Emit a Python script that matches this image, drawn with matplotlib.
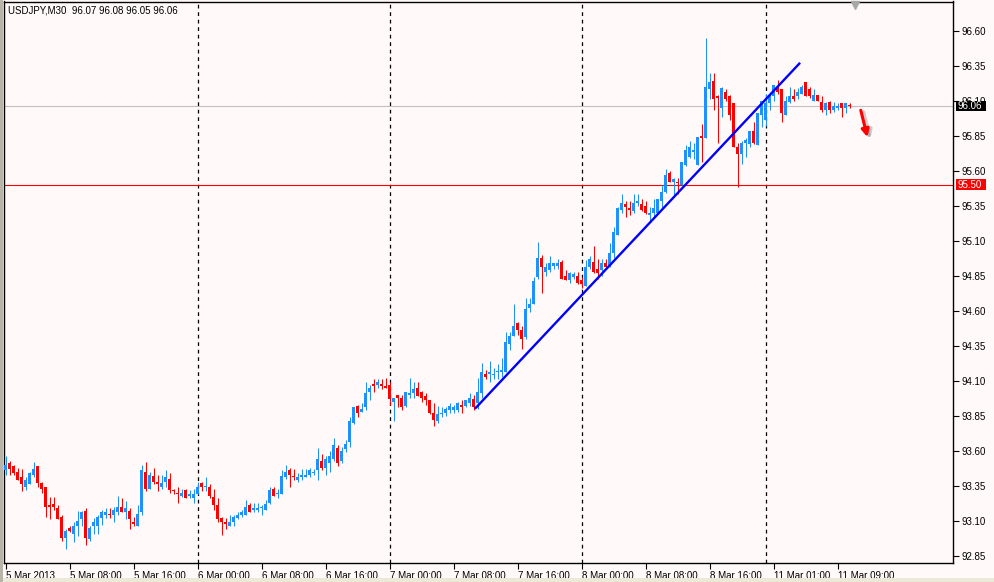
import numpy as np
import matplotlib
matplotlib.use("Agg")
import matplotlib.pyplot as plt
from matplotlib.patches import Rectangle

plt.rcParams["font.family"] = ["Liberation Sans", "DejaVu Sans"]

# ---------------- data (USDJPY, M30) ----------------
opens = [93.46,93.51,93.49,93.45,93.41,93.34,93.36,93.43,93.49,93.37,
         93.34,93.21,93.22,93.19,93.13,92.98,93.05,93.01,93.06,93.11,
         93.17,92.97,93.06,93.06,93.12,93.14,93.15,93.14,93.16,93.20,
         93.16,93.17,93.09,93.06,93.16,93.45,93.33,93.42,93.38,93.34,
         93.38,93.40,93.32,93.30,93.28,93.32,93.28,93.26,93.29,93.37,
         93.34,93.34,93.27,93.21,93.12,93.09,93.06,93.09,93.12,93.14,
         93.14,93.21,93.18,93.18,93.19,93.18,93.23,93.33,93.29,93.29,
         93.41,93.46,93.42,93.39,93.41,93.41,93.43,93.44,93.46,93.53,
         93.48,93.51,93.54,93.62,93.53,93.61,93.66,93.80,93.92,93.88,
         93.91,94.02,94.08,94.07,94.08,94.06,94.07,93.95,94.00,93.98,
         93.92,94.00,94.01,94.05,94.02,93.99,93.96,93.87,93.81,93.86,
         93.87,93.89,93.89,93.89,93.93,93.92,93.94,93.97,93.94,94.01,
         94.15,94.15,94.14,94.16,94.16,94.16,94.36,94.42,94.51,94.46,
         94.41,94.62,94.65,94.84,94.98,94.88,94.89,94.92,94.92,94.95,
         94.85,94.82,94.84,94.85,94.82,94.78,94.91,94.95,94.90,94.89,
         94.94,94.92,95.01,95.14,95.32,95.36,95.33,95.31,95.37,95.36,
         95.35,95.28,95.30,95.30,95.38,95.45,95.58,95.52,95.52,95.50,
         95.64,95.70,95.73,95.64,95.85,95.83,96.18,96.24,96.13,96.05,
         96.16,96.13,96.08,95.77,95.72,95.80,95.79,95.88,95.78,96.00,
         95.96,96.08,96.13,96.20,96.18,96.00,96.09,96.13,96.13,96.15,
         96.23,96.18,96.10,96.14,96.09,96.03,96.09,96.03,96.05,96.08,
         96.05,96.07]
highs = [93.56,93.53,93.50,93.48,93.47,93.41,93.45,93.52,93.49,93.38,
         93.34,93.27,93.27,93.21,93.14,93.04,93.06,93.09,93.17,93.17,
         93.19,93.06,93.12,93.14,93.18,93.19,93.19,93.20,93.28,93.26,
         93.24,93.19,93.13,93.21,93.50,93.52,93.45,93.48,93.43,93.43,
         93.46,93.44,93.33,93.34,93.33,93.33,93.32,93.33,93.38,93.38,
         93.41,93.36,93.33,93.26,93.13,93.12,93.14,93.14,93.16,93.18,
         93.25,93.23,93.23,93.23,93.21,93.25,93.34,93.34,93.33,93.46,
         93.50,93.48,93.47,93.44,93.47,93.47,93.48,93.47,93.62,93.58,
         93.56,93.60,93.69,93.64,93.63,93.68,93.84,93.91,93.93,93.94,
         94.09,94.07,94.11,94.11,94.11,94.12,94.09,93.98,94.00,94.00,
         94.02,94.12,94.09,94.09,94.03,94.01,93.96,93.94,93.92,93.91,
         93.91,93.94,93.93,93.95,93.96,93.96,94.01,94.00,94.12,94.23,
         94.18,94.24,94.19,94.22,94.26,94.45,94.45,94.65,94.52,94.49,
         94.69,94.69,94.84,95.09,95.00,94.94,94.99,94.94,94.97,94.96,
         94.89,94.88,94.88,94.88,94.84,94.96,94.99,95.06,94.97,94.97,
         94.97,95.08,95.20,95.34,95.43,95.38,95.38,95.43,95.43,95.40,
         95.38,95.34,95.40,95.40,95.50,95.61,95.60,95.55,95.55,95.66,
         95.78,95.81,95.80,95.84,95.93,96.55,96.30,96.30,96.14,96.20,
         96.18,96.14,96.08,95.80,95.81,95.83,95.88,95.95,96.01,96.10,
         96.15,96.16,96.21,96.25,96.18,96.13,96.20,96.18,96.19,96.21,
         96.23,96.20,96.18,96.14,96.13,96.09,96.10,96.09,96.08,96.08,
         96.08,96.08]
lows = [93.43,93.43,93.43,93.39,93.31,93.32,93.36,93.41,93.34,93.30,
        93.13,93.11,93.18,93.11,92.96,92.90,93.02,92.95,92.99,93.06,
        92.93,92.96,93.01,93.01,93.07,93.12,93.12,93.09,93.14,93.16,
        93.11,93.04,93.06,93.06,93.14,93.31,93.33,93.36,93.31,93.33,
        93.34,93.30,93.29,93.23,93.27,93.26,93.26,93.23,93.29,93.31,
        93.31,93.26,93.18,93.09,93.00,93.04,93.06,93.06,93.11,93.13,
        93.14,93.16,93.16,93.16,93.14,93.18,93.22,93.28,93.26,93.29,
        93.40,93.34,93.39,93.38,93.39,93.41,93.41,93.43,93.39,93.46,
        93.43,93.45,93.53,93.49,93.51,93.59,93.63,93.79,93.84,93.88,
        93.89,93.96,94.02,94.05,94.04,94.05,93.93,93.81,93.91,93.89,
        93.91,93.98,93.98,93.99,93.95,93.93,93.86,93.78,93.80,93.84,
        93.85,93.87,93.87,93.88,93.87,93.91,93.92,93.89,93.90,93.98,
        94.11,94.09,94.11,94.11,94.13,94.16,94.32,94.42,94.43,94.33,
        94.40,94.59,94.65,94.83,94.73,94.85,94.88,94.90,94.90,94.83,
        94.82,94.80,94.83,94.79,94.76,94.78,94.90,94.87,94.83,94.85,
        94.90,94.91,94.98,95.14,95.30,95.27,95.28,95.30,95.35,95.31,
        95.29,95.23,95.26,95.29,95.33,95.44,95.52,95.42,95.43,95.50,
        95.63,95.69,95.68,95.64,95.66,95.83,96.11,96.03,95.80,95.98,
        96.10,95.96,95.77,95.48,95.65,95.70,95.77,95.79,95.78,95.91,
        95.92,96.03,96.10,96.15,95.95,96.00,96.08,96.10,96.11,96.15,
        96.13,96.12,96.10,96.10,96.02,96.00,96.01,96.02,96.03,95.98,
        96.01,96.05]
closes = [93.50,93.47,93.44,93.39,93.36,93.39,93.44,93.47,93.37,93.33,
          93.20,93.20,93.20,93.11,92.98,93.03,93.03,93.06,93.10,93.16,
          92.98,93.05,93.09,93.13,93.16,93.16,93.14,93.18,93.20,93.16,
          93.19,93.11,93.08,93.15,93.46,93.33,93.43,93.38,93.36,93.37,
          93.41,93.32,93.31,93.29,93.30,93.26,93.29,93.29,93.34,93.34,
          93.35,93.28,93.21,93.11,93.09,93.08,93.09,93.13,93.14,93.16,
          93.20,93.16,93.19,93.19,93.20,93.22,93.32,93.28,93.30,93.42,
          93.45,93.43,93.41,93.41,93.43,93.43,93.46,93.45,93.54,93.48,
          93.54,93.56,93.64,93.51,93.60,93.65,93.81,93.91,93.87,93.90,
          94.01,94.05,94.06,94.09,94.06,94.05,93.97,93.98,93.98,93.91,
          94.02,94.01,94.04,93.99,93.98,93.96,93.87,93.82,93.86,93.87,
          93.90,93.92,93.91,93.94,93.91,93.96,93.98,93.91,94.02,94.16,
          94.13,94.16,94.15,94.17,94.18,94.38,94.42,94.49,94.46,94.40,
          94.61,94.65,94.81,94.98,94.91,94.91,94.94,94.94,94.94,94.83,
          94.82,94.87,94.86,94.80,94.79,94.91,94.97,94.88,94.87,94.94,
          94.91,95.01,95.16,95.33,95.37,95.34,95.32,95.37,95.38,95.32,
          95.30,95.30,95.33,95.40,95.45,95.57,95.52,95.54,95.51,95.66,
          95.75,95.77,95.75,95.84,95.83,96.20,96.23,96.11,96.12,96.19,
          96.11,96.00,95.77,95.72,95.80,95.82,95.88,95.80,96.01,96.10,
          96.08,96.14,96.21,96.16,96.01,96.10,96.13,96.11,96.16,96.20,
          96.13,96.13,96.14,96.10,96.03,96.08,96.03,96.06,96.06,96.05,
          96.08,96.06]

x_tick_bars = [0, 16, 32, 48, 64, 80, 96, 112, 128, 144, 160, 176, 192, 208]
x_tick_labels = ["5 Mar 2013", "5 Mar 08:00", "5 Mar 16:00", "6 Mar 00:00",
                 "6 Mar 08:00", "6 Mar 16:00", "7 Mar 00:00", "7 Mar 08:00",
                 "7 Mar 16:00", "8 Mar 00:00", "8 Mar 08:00", "8 Mar 16:00",
                 "11 Mar 01:00", "11 Mar 09:00"]
separator_bars = [48, 96, 144, 190]
y_ticks = [92.85, 93.10, 93.35, 93.60, 93.85, 94.10, 94.35, 94.60,
           94.85, 95.10, 95.35, 95.60, 95.85, 96.10, 96.35, 96.60]
trend_bars = [117.3, 198.6]
trend_prices = [93.90, 96.37]
bid_price = 96.06
level_price = 95.50
arrow_bars = [213.6, 215.6]
arrow_prices = [96.05, 95.82]
symbol = "USDJPY,M30"

# ---------------- drawing ----------------
BG = "#FFFAF9"
BULL = "#1E90FF"
BEAR = "#FF0000"

fig = plt.figure(figsize=(9.95, 5.82), dpi=100, facecolor=BG)
W, H = 995.0, 582.0
ax_l, ax_r, ax_t, ax_b = 4.5, 953.0, 1.5, 563.0
ax = fig.add_axes([ax_l / W, 1 - ax_b / H, (ax_r - ax_l) / W, (ax_b - ax_t) / H])
ax.set_facecolor(BG)

o = np.array(opens); h = np.array(highs); l = np.array(lows); c = np.array(closes)
x = np.arange(len(o))
cols = np.where(c >= o, BULL, BEAR)

ax.vlines(x, l, h, colors=cols, linewidth=0.75, zorder=3)
body_bot = np.minimum(o, c)
body_h = np.maximum(np.abs(c - o), 0.007)
ax.bar(x, body_h, bottom=body_bot, width=0.75, color=cols, linewidth=0, zorder=4)

# period separators
for sb in separator_bars:
    ax.axvline(sb, color="black", linewidth=0.9, linestyle=(0, (3, 3)), zorder=2)

# horizontal lines
ax.axhline(bid_price, color="#C0C0C0", linewidth=0.8, zorder=1)
ax.axhline(level_price, color="#FF0000", linewidth=0.8, zorder=2)

# trend line
ax.plot(trend_bars, trend_prices, color="#0000FF", linewidth=1.7, zorder=5,
        solid_capstyle="butt")

# red arrow with shadow
ax.annotate("", xy=(arrow_bars[1] + 0.7, arrow_prices[1] - 0.014),
            xytext=(arrow_bars[0] + 0.7, arrow_prices[0] - 0.014),
            arrowprops=dict(arrowstyle="-|>", color="#A0A0A0", lw=2.6,
                            mutation_scale=12, alpha=0.5), zorder=5)
ax.annotate("", xy=(arrow_bars[1], arrow_prices[1]),
            xytext=(arrow_bars[0], arrow_prices[0]),
            arrowprops=dict(arrowstyle="-|>", color="#FF0000", lw=2.2,
                            mutation_scale=11), zorder=6)

# shift marker
ax.plot([0.897], [0.993], marker="v", color="#A8A8A8", markersize=6,
        transform=ax.transAxes, clip_on=False, zorder=6)

ax.set_xlim((ax_l - 5.7) / 4.0, (ax_r - 5.7) / 4.0)
px_per_unit = 140.1
top_price = 96.818 - ax_t / px_per_unit
bot_price = 96.818 - ax_b / px_per_unit
ax.set_ylim(bot_price, top_price)

# axes ticks
ax.yaxis.tick_right()
ax.set_yticks(y_ticks)
ax.set_yticklabels([f"{v:.2f}" for v in y_ticks])
ax.set_xticks(x_tick_bars)
ax.set_xticklabels(x_tick_labels)
for lab in ax.get_xticklabels():
    lab.set_horizontalalignment("left")
ax.tick_params(axis="y", direction="out", length=4, width=0.8, labelsize=7,
               pad=2, colors="black")
ax.tick_params(axis="x", direction="out", length=4, width=0.8, labelsize=7,
               pad=1.5, colors="black")
for sp in ax.spines.values():
    sp.set_color("black")
    sp.set_linewidth(1.0)

# price labels on the scale (boxes)
ytr = ax.get_yaxis_transform()
box_x0 = (956 - ax_l) / (ax_r - ax_l)
box_w = 30 / (ax_r - ax_l)
box_h = 10.5 / px_per_unit
for price, fc in [(bid_price, "black"), (level_price, "#FF0000")]:
    ax.add_patch(Rectangle((box_x0, price - box_h / 2), box_w, box_h,
                           transform=ytr, facecolor=fc, edgecolor="none",
                           clip_on=False, zorder=9))
    ax.text(box_x0 + 2 / (ax_r - ax_l), price, f"{price:.2f}", transform=ytr,
            fontsize=7, color="white", va="center", ha="left", clip_on=False,
            zorder=10)

# header text
ax.text(0.0037, 0.992,
        f"{symbol}  {o[-1]:.2f} {h[-1]:.2f} {l[-1]:.2f} {c[-1]:.2f}",
        transform=ax.transAxes, fontsize=7, va="top", ha="left", color="black",
        zorder=10)

# window frame strips
fig.patches.append(Rectangle((0, 0), 1, 4 / H, transform=fig.transFigure,
                             facecolor="#ECE9D8", edgecolor="none", zorder=0))
fig.patches.append(Rectangle((0, 0), 3 / W, 1, transform=fig.transFigure,
                             facecolor="#B8B4A8", edgecolor="none", zorder=0))

fig.savefig("out.png", dpi=100, facecolor=BG)
